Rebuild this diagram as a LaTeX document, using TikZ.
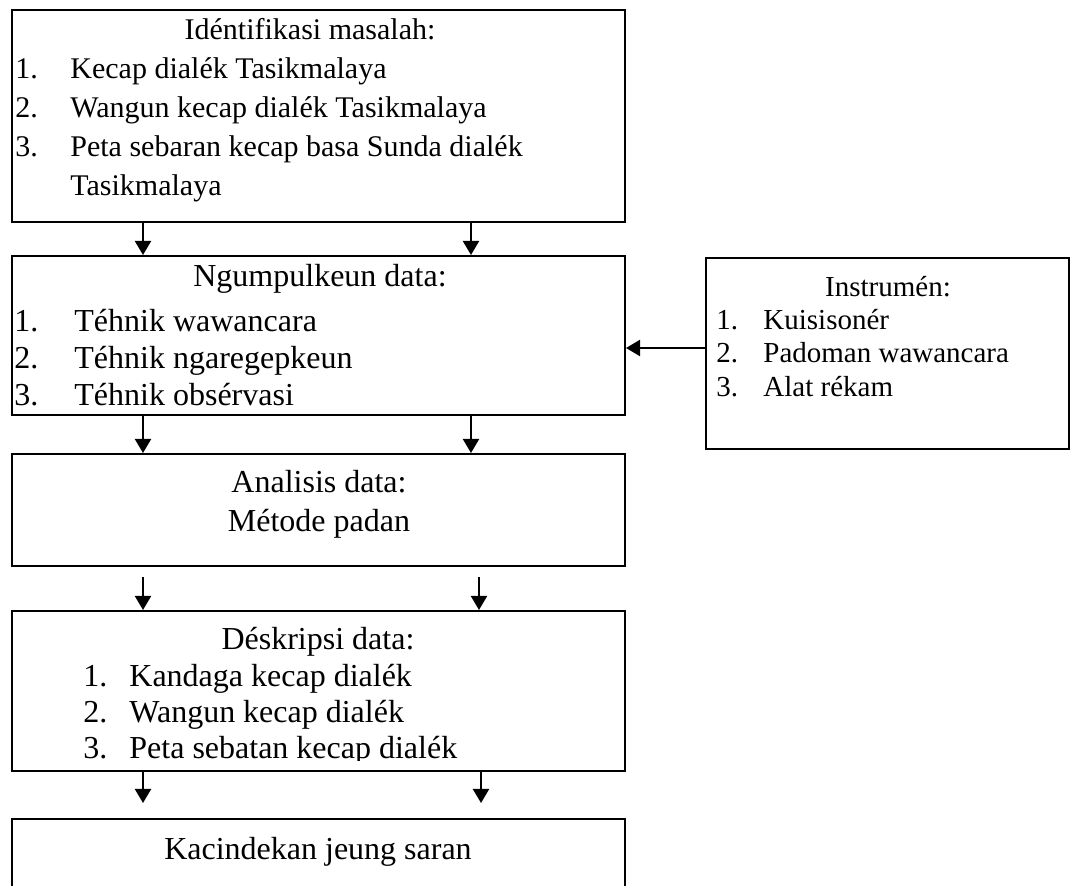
\documentclass[tikz,border=0pt]{standalone}
\usepackage{fontspec}
\setmainfont{Liberation Serif}
\usetikzlibrary{arrows.meta,fit}
\begin{document}
\begin{tikzpicture}[x=0.5pt,y=-0.5pt,
  box/.style={draw, line width=1pt, inner sep=0pt, rectangle},
  arr/.style={line width=1pt, -{Triangle[length=7pt,width=8pt]}},
  tA/.style={font=\fontsize{15pt}{18pt}\selectfont, inner sep=0pt},
  tB/.style={font=\fontsize{16pt}{19pt}\selectfont, inner sep=0pt},
  tC/.style={font=\fontsize{14.5pt}{17pt}\selectfont, inner sep=0pt},
]
\useasboundingbox (0,0) rectangle (1071,886);
\clip (0,0) rectangle (1071,886);

% boxes
\node[box, fit={(12,10) (625,222)}] (b1) {};
\node[box, fit={(12,256) (625,415)}] (b2) {};
\node[box, fit={(12,454) (625,566)}] (b3) {};
\node[box, fit={(12,611) (625,771)}] (b4) {};
\node[box, fit={(12,819) (625,905)}] (b5) {};
\node[box, fit={(706,258) (1069,449)}] (ins) {};

% box 1 text
\node[tA, anchor=base] (t1) at (310,40) {Idéntifikasi masalah:};
\node[tA, anchor=base west] (n11) at (15,79) {1.};
\node[tA, anchor=base west] (l11) at (70,79) {Kecap dialék Tasikmalaya};
\node[tA, anchor=base west] (n12) at (15,118) {2.};
\node[tA, anchor=base west] (l12) at (70,118) {Wangun kecap dialék Tasikmalaya};
\node[tA, anchor=base west] (n13) at (15,157) {3.};
\node[tA, anchor=base west] (l13) at (70,157) {Peta sebaran kecap basa Sunda dialék};
\node[tA, anchor=base west] (l14) at (70,196) {Tasikmalaya};

% box 2 text
\node[tB, anchor=base] (t2) at (320,287) {Ngumpulkeun data:};
\node[tB, anchor=base west] (n21) at (14,332) {1.};
\node[tB, anchor=base west] (l21) at (74,332) {Téhnik wawancara};
\node[tB, anchor=base west] (n22) at (14,369) {2.};
\node[tB, anchor=base west] (l22) at (74,369) {Téhnik ngaregepkeun};
\node[tB, anchor=base west] (n23) at (14,406) {3.};
\node[tB, anchor=base west] (l23) at (74,406) {Téhnik obsérvasi};

% instrumen text
\node[tC, anchor=base] (ti) at (888,297) {Instrumén:};
\node[tC, anchor=base west] (ni1) at (716,330) {1.};
\node[tC, anchor=base west] (li1) at (763,330) {Kuisisonér};
\node[tC, anchor=base west] (ni2) at (716,363) {2.};
\node[tC, anchor=base west] (li2) at (763,363) {Padoman wawancara};
\node[tC, anchor=base west] (ni3) at (716,397) {3.};
\node[tC, anchor=base west] (li3) at (763,397) {Alat rékam};

% box 3 text
\node[tB, anchor=base] (t3) at (319,493) {Analisis data:};
\node[tB, anchor=base] (l31) at (319,532) {Métode padan};

% box 4 text
\node[tB, anchor=base] (t4) at (318,650) {Déskripsi data:};
\node[tB, anchor=base west] (n41) at (83,687) {1.};
\node[tB, anchor=base west] (l41) at (129,687) {Kandaga kecap dialék};
\node[tB, anchor=base west] (n42) at (83,723) {2.};
\node[tB, anchor=base west] (l42) at (129,723) {Wangun kecap dialék};
\begin{scope}
\clip (12,611) rectangle (625,761);
\node[tB, anchor=base west] (n43) at (83,759) {3.};
\node[tB, anchor=base west] (l43) at (129,759) {Peta sebatan kecap dialék};
\end{scope}

% box 5 text
\node[tB, anchor=base] (t5) at (318,860) {Kacindekan jeung saran};

% arrow guide coordinates
\coordinate (xL) at (143,0);
\coordinate (xR1) at (471,0);
\coordinate (s3L) at (143,577);
\coordinate (s3R) at (479,577);
\coordinate (e4L) at (143,803);
\coordinate (e4R) at (481,803);
\coordinate (yA) at (0,348);

% connectors
\draw[arr] (b1.south -| xL) -- (b2.north -| xL);
\draw[arr] (b1.south -| xR1) -- (b2.north -| xR1);
\draw[arr] (b2.south -| xL) -- (b3.north -| xL);
\draw[arr] (b2.south -| xR1) -- (b3.north -| xR1);
\draw[arr] (s3L) -- (b4.north -| s3L);
\draw[arr] (s3R) -- (b4.north -| s3R);
\draw[arr] (b4.south -| e4L) -- (e4L);
\draw[arr] (b4.south -| e4R) -- (e4R);
\draw[arr] (ins.west |- yA) -- (b2.east |- yA);
\end{tikzpicture}
\end{document}
